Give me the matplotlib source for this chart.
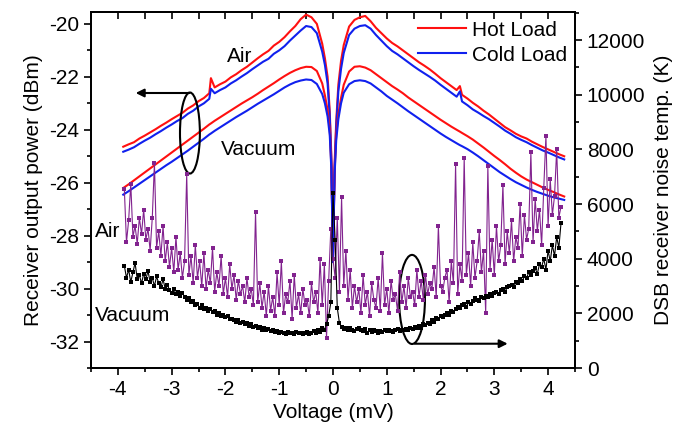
import numpy as np
import matplotlib
matplotlib.use('Agg')
import matplotlib.pyplot as plt
from matplotlib.patches import Ellipse
from matplotlib.ticker import MultipleLocator

plt.rcParams['font.family'] = ['Liberation Sans', 'DejaVu Sans']
plt.rcParams['axes.unicode_minus'] = False

# bias voltage (mV) for the IF output power curves
pw_v = [-3.9, -3.8, -3.7, -3.6, -3.5, -3.4, -3.3, -3.2, -3.1, -3.0, -2.9, -2.8, -2.7, -2.6, -2.5, -2.4, -2.3,
        -2.27,
        -2.2, -2.1, -2.0, -1.9, -1.8, -1.7, -1.6, -1.5, -1.4, -1.3, -1.2, -1.1, -1.0, -0.9, -0.8, -0.7, -0.6, -0.5, -0.4, -0.3, -0.2,
        -0.15, -0.1, -0.06, -0.03, 0.0, 0.03, 0.06, 0.1, 0.15,
        0.2, 0.3, 0.4, 0.5, 0.6, 0.7, 0.8, 0.9, 1.0, 1.1, 1.2, 1.3, 1.4, 1.5, 1.6, 1.7, 1.8, 1.9, 2.0, 2.1, 2.2, 2.3,
        2.36,
        2.4, 2.5, 2.6, 2.7, 2.8, 2.9, 3.0, 3.1, 3.2, 3.3, 3.4, 3.5, 3.6, 3.7, 3.8, 3.9, 4.0, 4.1, 4.2, 4.3]

# output power (dBm), hot / cold load, in air and in vacuum
hot_air = [-24.64, -24.55, -24.47, -24.33, -24.22, -24.10, -23.98, -23.85, -23.73, -23.60, -23.48, -23.36, -23.20, -23.08, -22.92, -22.80, -22.62,
           -22.05,
           -22.40, -22.28, -22.18, -22.02, -21.90, -21.75, -21.62, -21.46, -21.30, -21.15, -21.02, -20.82, -20.68, -20.50, -20.28, -20.08, -19.82, -19.65, -19.75, -20.00, -20.75,
           -21.30, -22.00, -23.30, -25.00, -28.90, -25.30, -23.70, -22.30, -21.40,
           -20.80, -20.10, -19.85, -19.75, -19.70, -19.90, -20.15, -20.35, -20.55, -20.72, -20.85, -21.00, -21.15, -21.30, -21.45, -21.58, -21.72, -21.88, -22.05, -22.20, -22.35, -22.50,
           -22.35,
           -22.68, -22.82, -22.98, -23.12, -23.28, -23.42, -23.58, -23.74, -23.90, -24.02, -24.15, -24.25, -24.33, -24.45, -24.55, -24.65, -24.74, -24.83, -24.92, -25.00]
cold_air = [-24.83, -24.75, -24.66, -24.53, -24.41, -24.30, -24.17, -24.05, -23.92, -23.80, -23.67, -23.56, -23.40, -23.28, -23.12, -23.00, -22.83,
            -22.45,
            -22.62, -22.50, -22.40, -22.25, -22.13, -21.99, -21.86, -21.71, -21.57, -21.43, -21.32, -21.13, -21.00, -20.84, -20.63, -20.44, -20.25, -20.08, -20.12, -20.35, -21.05,
            -21.55, -22.25, -23.50, -25.20, -29.00, -25.50, -23.90, -22.55, -21.70,
            -21.10, -20.42, -20.18, -20.08, -20.05, -20.18, -20.42, -20.63, -20.84, -21.02, -21.15, -21.30, -21.45, -21.60, -21.74, -21.87, -22.00, -22.14, -22.30, -22.45, -22.60, -22.75,
            -22.55,
            -22.93, -23.07, -23.23, -23.35, -23.48, -23.60, -23.74, -23.88, -24.03, -24.15, -24.28, -24.38, -24.47, -24.58, -24.68, -24.78, -24.86, -24.95, -25.04, -25.12]
hot_vac = [-26.20, -26.06, -25.91, -25.76, -25.61, -25.46, -25.31, -25.16, -25.01, -24.86, -24.71, -24.56, -24.41, -24.26, -24.11, -23.96, -23.80,
           -23.76,
           -23.66, -23.53, -23.40, -23.27, -23.14, -23.01, -22.89, -22.77, -22.64, -22.50, -22.37, -22.24, -22.10, -21.97, -21.85, -21.75, -21.67, -21.62, -21.63, -21.78, -22.25,
           -22.70, -23.25, -24.00, -25.40, -28.90, -25.60, -24.20, -23.40, -22.80,
           -22.30, -21.80, -21.62, -21.60, -21.65, -21.75, -21.90, -22.05, -22.20, -22.35, -22.48, -22.62, -22.78, -22.92, -23.06, -23.20, -23.34, -23.48, -23.62, -23.75, -23.88, -24.00,
           -24.07,
           -24.12, -24.24, -24.37, -24.52, -24.67, -24.83, -24.99, -25.14, -25.30, -25.47, -25.62, -25.76, -25.88, -25.98, -26.08, -26.18, -26.27, -26.35, -26.44, -26.52]
cold_vac = [-26.45, -26.32, -26.18, -26.04, -25.90, -25.76, -25.62, -25.48, -25.34, -25.21, -25.07, -24.93, -24.79, -24.64, -24.49, -24.34, -24.18,
            -24.14,
            -24.04, -23.91, -23.78, -23.65, -23.52, -23.40, -23.28, -23.15, -23.02, -22.90, -22.78, -22.66, -22.53, -22.40, -22.29, -22.20, -22.14, -22.10, -22.12, -22.27, -22.65,
            -23.00, -23.50, -24.20, -25.50, -29.00, -25.70, -24.40, -23.60, -23.00,
            -22.60, -22.28, -22.16, -22.13, -22.16, -22.25, -22.40, -22.55, -22.72, -22.86, -23.00, -23.15, -23.30, -23.44, -23.58, -23.72, -23.86, -24.00, -24.14, -24.27, -24.39, -24.51,
            -24.58,
            -24.62, -24.73, -24.86, -25.00, -25.15, -25.30, -25.45, -25.60, -25.73, -25.86, -25.98, -26.08, -26.18, -26.27, -26.35, -26.42, -26.49, -26.55, -26.60, -26.65]

# DSB receiver noise temperature (K), bias sweep -3.88 .. 4.24 mV in 0.04 mV steps
tn_air = [6550, 4600, 5400, 6750, 4800, 5200, 4550, 5500, 4900, 5800,
          4700, 5100, 4300, 5500, 7500, 4400, 5000, 4100, 5200, 3900,
          4600, 3700, 4400, 3500, 4800, 3600, 4200, 3300, 3900, 7100,
          3400, 4100, 3100, 4500, 3300, 3900, 3000, 4200, 2900, 3600,
          3100, 4400, 2800, 3500, 3000, 4100, 2700, 3300, 2600, 3800,
          2900, 3400, 2500, 3200, 2700, 3000, 2400, 3300, 2600, 2900,
          2300, 5700, 2400, 3100, 2200, 2800, 1900, 3000, 2100, 2600,
          1900, 3500, 2300, 3900, 2000, 2700, 2400, 3200, 1800, 3400,
          2200, 2700, 2000, 2900, 2300, 2500, 1900, 3100, 2400, 2800,
          2000, 4000, 2300, 3800, 1100, 3200, 5100, 4000, 3300, 5500,
          2800, 6250, 3000, 4300, 2500, 3600, 2200, 3000, 2400, 2900,
          2000, 3400, 2300, 2800, 1900, 3100, 2500, 2200, 3300, 2100,
          4200, 2300, 2900, 2000, 3200, 2500, 2700, 2100, 3500, 2400,
          3000, 2200, 3300, 2600, 2800, 2300, 3600, 2600, 3200, 2500,
          3400, 2700, 3100, 2900, 3700, 2600, 5200, 3000, 2800, 3300,
          3600, 2400, 3900, 3100, 7450, 2700, 3800, 3200, 7700, 3400,
          4200, 3000, 4600, 3300, 3900, 5000, 3500, 4300, 2000, 7400,
          3600, 4700, 3400, 5200, 3900, 4500, 6700, 3800, 5000, 4200,
          5400, 3900, 4800, 4400, 6000, 4100, 5600, 4700, 5100, 7900,
          4600, 6200, 5000, 5800, 4500, 6600, 8500, 5200, 6900, 5600,
          6300, 8000, 5500, 5900]
tn_vac = [3750, 3300, 3600, 3150, 3500, 3850, 3250, 3400, 3100, 3450,
          3250, 3550, 3150, 3300, 3000, 3350, 3100, 2950, 3250, 2900,
          3050, 2850, 2750, 2900, 2700, 2800, 2650, 2750, 2600, 2500,
          2550, 2400, 2450, 2300, 2350, 2200, 2300, 2150, 2200, 2100,
          2150, 2050, 2100, 1950, 2000, 1900, 1950, 1850, 1900, 1800,
          1800, 1750, 1700, 1750, 1650, 1700, 1600, 1650, 1550, 1600,
          1500, 1550, 1450, 1500, 1400, 1450, 1380, 1420, 1350, 1400,
          1320, 1360, 1280, 1330, 1300, 1260, 1320, 1280, 1300, 1250,
          1310, 1270, 1300, 1240, 1290, 1320, 1260, 1300, 1350, 1280,
          1380, 1330, 1450, 1400, 1600, 1900, 2400, 6400, 4700, 2200,
          1650, 1500, 1420, 1480, 1380, 1450, 1400, 1350, 1420, 1480,
          1400, 1350, 1420, 1300, 1380, 1330, 1400, 1340, 1300, 1370,
          1320, 1380, 1340, 1400, 1350, 1320, 1380, 1420, 1360, 1400,
          1380, 1440, 1400, 1480, 1420, 1500, 1450, 1550, 1480, 1600,
          1560, 1650, 1620, 1750, 1700, 1820, 1780, 1900, 1850, 1950,
          2000, 1950, 2100, 2050, 2150, 2250, 2200, 2300, 2350, 2250,
          2400, 2350, 2450, 2550, 2500, 2450, 2600, 2550, 2650, 2600,
          2700, 2650, 2750, 2800, 2700, 2850, 2900, 2800, 2950, 3000,
          3050, 2950, 3150, 3100, 3250, 3200, 3350, 3300, 3500, 3400,
          3550, 3650, 3450, 3800, 3700, 4000, 3600, 4300, 3900, 4500,
          4100, 4800, 4400, 5300]
tn_v = np.linspace(-3.88, 4.24, len(tn_air))

fig = plt.figure(figsize=(6.81, 4.34), dpi=100)
ax1 = fig.add_axes([0.1336, 0.152, 0.7107, 0.8204])
ax2 = ax1.twinx()

red = '#ff1010'
blue = '#1020ee'
ax1.plot(pw_v, hot_air, color=red, lw=1.5, label='Hot Load')
ax1.plot(pw_v, cold_air, color=blue, lw=1.5, label='Cold Load')
ax1.plot(pw_v, hot_vac, color=red, lw=1.5)
ax1.plot(pw_v, cold_vac, color=blue, lw=1.5)

ax2.plot(tn_v, tn_air, color='#82238f', lw=0.8, marker='s', ms=2.8, mew=0)
ax2.plot(tn_v, tn_vac, color='black', lw=0.8, marker='s', ms=2.8, mew=0)

ax1.set_xlim(-4.5, 4.5)
ax1.set_ylim(-33, -19.55)
ax2.set_ylim(0, 13030)

ax1.xaxis.set_major_locator(MultipleLocator(1))
ax1.xaxis.set_minor_locator(MultipleLocator(0.5))
ax1.yaxis.set_major_locator(MultipleLocator(2))
ax1.yaxis.set_minor_locator(MultipleLocator(1))
ax2.yaxis.set_major_locator(MultipleLocator(2000))
ax2.yaxis.set_minor_locator(MultipleLocator(1000))

ax1.tick_params(which='major', length=5, width=1.2, labelsize=15, direction='out')
ax1.tick_params(which='minor', length=3, width=1.2, direction='out')
ax2.tick_params(which='major', length=5, width=1.2, labelsize=15, direction='out')
ax2.tick_params(which='minor', length=3, width=1.2, direction='out')

top = ax1.secondary_xaxis('top')
top.xaxis.set_major_locator(MultipleLocator(1))
top.xaxis.set_minor_locator(MultipleLocator(0.5))
top.tick_params(which='both', direction='in', length=5, width=1.2, labeltop=False)

for a in (ax1, ax2):
    for s in a.spines.values():
        s.set_linewidth(1.3)
top.spines['top'].set_linewidth(1.3)

ax1.set_xlabel('Voltage (mV)', fontsize=15, labelpad=3)
ax1.set_ylabel('Receiver output power (dBm)', fontsize=15, labelpad=4)
ax2.set_ylabel('DSB receiver noise temp. (K)', fontsize=15, labelpad=6)

ax1.text(-1.97, -21.25, 'Air', fontsize=15, va='center')
ax1.text(-2.09, -24.75, 'Vacuum', fontsize=15, va='center')
ax1.text(-4.42, -27.85, 'Air', fontsize=15, va='center')
ax1.text(-4.42, -31.0, 'Vacuum', fontsize=15, va='center')

ax2.add_patch(Ellipse((-2.66, 8600), 0.37, 2965, fill=False, ec='black', lw=1.5))
ax2.annotate('', xy=(-3.72, 10065), xytext=(-2.62, 10065),
             arrowprops=dict(arrowstyle='-|>', color='black', lw=1.5, mutation_scale=12))
ax2.add_patch(Ellipse((1.47, 2510), 0.48, 3260, fill=False, ec='black', lw=1.5))
ax2.annotate('', xy=(3.3, 890), xytext=(1.47, 890),
             arrowprops=dict(arrowstyle='-|>', color='black', lw=1.5, mutation_scale=12))

ax1.legend(loc='upper right', bbox_to_anchor=(1.023, 1.028), frameon=False, fontsize=15,
           handlelength=2.3, handletextpad=0.3, labelspacing=0.28)

fig.savefig('out.png', dpi=100)
